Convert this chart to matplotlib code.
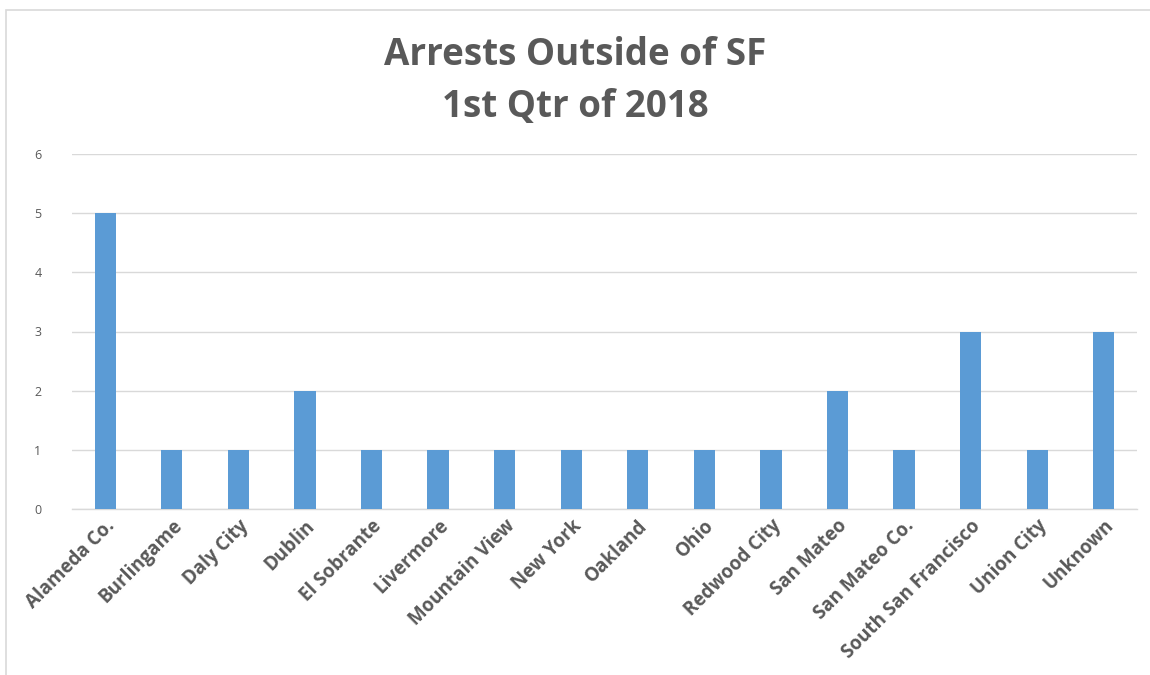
import matplotlib
matplotlib.use("Agg")
import matplotlib.pyplot as plt
from matplotlib.patches import Rectangle

categories = ["Alameda Co.", "Burlingame", "Daly City", "Dublin", "El Sobrante",
              "Livermore", "Mountain View", "New York", "Oakland", "Ohio",
              "Redwood City", "San Mateo", "San Mateo Co.", "South San Francisco",
              "Union City", "Unknown"]
arrests = [5, 1, 1, 2, 1, 1, 1, 1, 1, 1, 1, 2, 1, 3, 1, 3]
y_ticks = [0, 1, 2, 3, 4, 5, 6]
title_text = "Arrests Outside of SF\n1st Qtr of 2018"

text_color = "#595959"
bar_color = "#5B9BD5"
grid_color = "#D9D9D9"

plt.rcParams["font.family"] = ["Open Sans", "DejaVu Sans"]

fig = plt.figure(figsize=(11.5, 6.75), dpi=100)
fig.patch.set_facecolor("white")

# chart frame
fig.patches.append(Rectangle((6 / 1150, -0.1), 1.2, 1 - 10 / 675 + 0.1,
                             transform=fig.transFigure, fill=False,
                             edgecolor="#D9D9D9", linewidth=1.2))

ax = fig.add_axes([72 / 1150, 1 - 509 / 675, (1137 - 72) / 1150, (509 - 154) / 675])
x = range(len(categories))
ax.bar(x, arrests, width=0.32, color=bar_color, zorder=3)

ax.set_xlim(-0.5, len(categories) - 0.5)
ax.set_ylim(0, 6)
ax.set_yticks(y_ticks)
ax.set_yticklabels([str(v) for v in y_ticks], fontsize=9, color=text_color)
ax.yaxis.grid(True, color=grid_color, linewidth=1, zorder=0)
ax.tick_params(axis="y", length=0, pad=22)
ax.tick_params(axis="x", length=0, pad=5)

ax.set_xticks(list(x))
ax.set_xticklabels(categories, rotation=45, ha="right", rotation_mode="anchor",
                   fontsize=13.5, color=text_color, fontweight="bold")

for side in ["top", "right", "left"]:
    ax.spines[side].set_visible(False)
ax.spines["bottom"].set_color(grid_color)
ax.spines["bottom"].set_linewidth(1)

fig.text(0.5, 1 - 81 / 675, title_text, ha="center", va="center",
         fontsize=26.5, color=text_color, fontweight="bold",
         linespacing=1.5)

fig.savefig("out.png", dpi=100, facecolor="white")
